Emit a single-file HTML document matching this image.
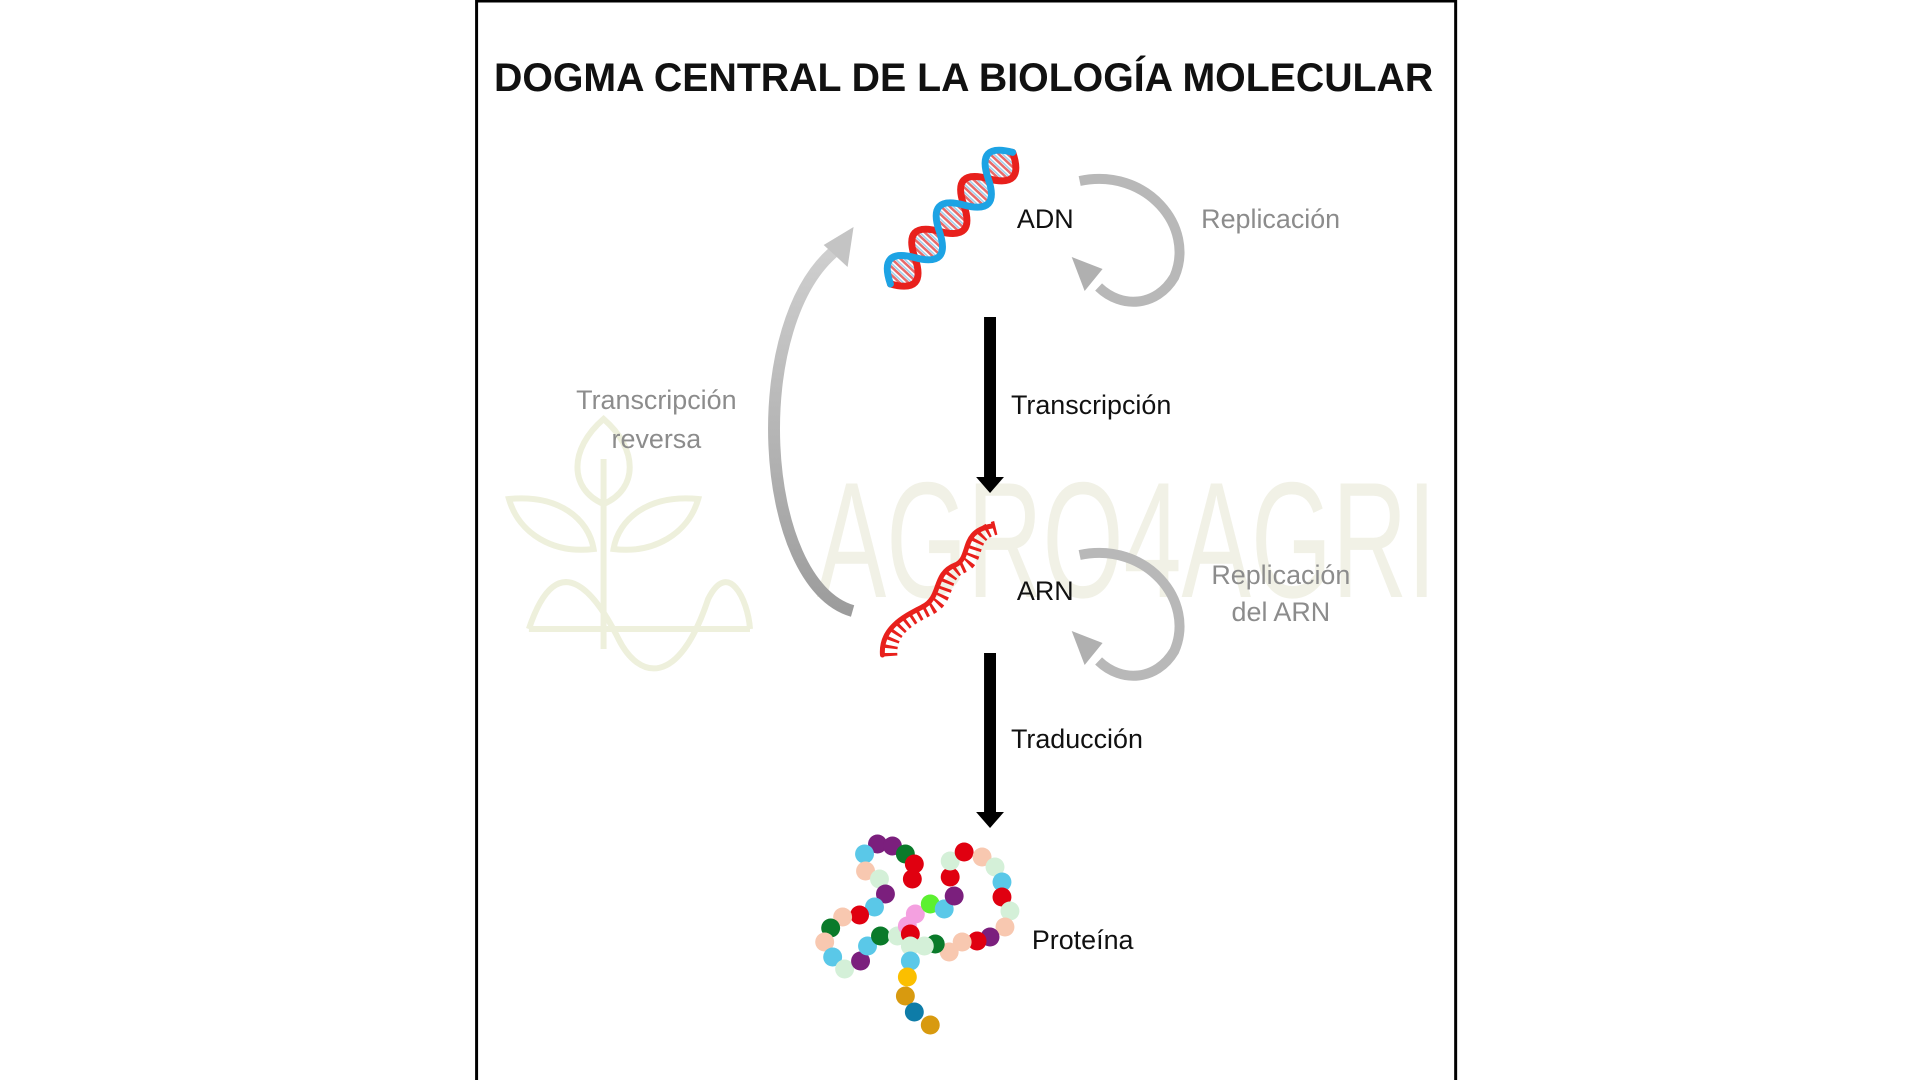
<!DOCTYPE html>
<html><head><meta charset="utf-8"><style>
html,body{margin:0;padding:0;background:#fff;width:1920px;height:1080px;overflow:hidden}
svg{display:block}
text{font-family:"Liberation Sans",sans-serif}
</style></head><body>
<svg width="1920" height="1080" viewBox="0 0 1920 1080" xmlns="http://www.w3.org/2000/svg">
<defs>
<pattern id="rungs" width="6" height="60" patternUnits="userSpaceOnUse" y="-30">
<rect x="0" y="0" width="2.5" height="60" fill="#e86a6a"/>
<rect x="3" y="0" width="1.5" height="60" fill="#9fd0ee"/>
</pattern>
<clipPath id="between"><path d="M0,0 Q18,34 36,0 T72,0 T108,0 T144,0 T180,0 Q162,-34 144,0 T108,0 T72,0 T36,0 T0,0 Z"/></clipPath>
<linearGradient id="revg" x1="0" y1="1" x2="0" y2="0"><stop offset="0" stop-color="#9c9c9c"/><stop offset="1" stop-color="#cfcfcf"/></linearGradient>
</defs>
<rect x="0" y="0" width="1920" height="1080" fill="#fff"/>
<g transform="matrix(0.996 0 0 1 1 -1)">
<rect x="477.5" y="2" width="983" height="1082" fill="none" stroke="#000" stroke-width="3"/>

<!-- watermark -->
<text x="819" y="598" font-size="165" fill="#f1f1e6" textLength="622" lengthAdjust="spacingAndGlyphs" style="font-family:'Liberation Sans Narrow','Liberation Sans',sans-serif">AGRO4AGRI</text>
<g fill="none" stroke="#eef0dc" stroke-width="6">
<path d="M605,420 C570,450 570,490 605,505 C640,490 640,450 605,420 Z"/>
<path d="M510,500 C560,495 590,520 595,550 C555,555 520,535 510,500 Z"/>
<path d="M700,500 C650,495 620,520 615,550 C655,555 690,535 700,500 Z"/>
<path d="M605,460 L605,650"/>
<path d="M530,630 C560,540 600,600 620,640 C640,680 680,690 710,600 C730,560 750,600 752,630"/>
<path d="M530,630 L752,630"/>
</g>

<text x="495" y="92" font-size="40" font-weight="bold" fill="#111" textLength="943" lengthAdjust="spacingAndGlyphs">DOGMA CENTRAL DE LA BIOLOGÍA MOLECULAR</text>

<!-- DNA -->
<g transform="translate(893,285) rotate(-47)">
<rect x="0" y="-30" width="180" height="60" fill="url(#rungs)" clip-path="url(#between)"/>
<path d="M0,0 Q18,34 36,0 T72,0 T108,0 T144,0 T180,0" fill="none" stroke="#e8201c" stroke-width="7" stroke-linecap="round"/>
<path d="M0,0 Q18,-34 36,0 T72,0 T108,0 T144,0 T180,0" fill="none" stroke="#1da3e4" stroke-width="7" stroke-linecap="round"/>
</g>
<text x="1020" y="229" font-size="27" fill="#111">ADN</text>

<!-- RNA -->
<path transform="translate(8,1)" d="M885,656 C883,630 905,618 925,608 C945,598 935,575 958,566 C975,559 962,532 995,527" fill="none" stroke="#e8201c" stroke-width="14" stroke-dasharray="3 4.5"/>
<path d="M885,656 C883,630 905,618 925,608 C945,598 935,575 958,566 C975,559 962,532 995,527" fill="none" stroke="#e8201c" stroke-width="5" stroke-linecap="round"/>
<text x="1020" y="601" font-size="27" fill="#111">ARN</text>

<!-- replication arcs -->
<g fill="none" stroke="#b8b8b8" stroke-width="10">
<path d="M1083,182 C1150,168 1200,228 1178,278 C1160,308 1125,310 1102,288"/>
<path d="M1083,556 C1150,542 1200,602 1178,652 C1160,682 1125,684 1102,662"/>
</g>
<polygon points="1075,258 1106,270 1088,292" fill="#b0b0b0"/>
<polygon points="1075,632 1106,644 1088,666" fill="#b0b0b0"/>
<text x="1205" y="229" font-size="27" fill="#8c8c8c">Replicación</text>
<text x="1285" y="585" font-size="27" fill="#8c8c8c" text-anchor="middle">Replicación</text>
<text x="1285" y="622" font-size="27" fill="#8c8c8c" text-anchor="middle">del ARN</text>

<!-- reverse transcription -->
<path d="M855,612 C760,585 745,320 842,248" fill="none" stroke="url(#revg)" stroke-width="12"/>
<polygon points="856,228 826,246 850,268" fill="#c4c4c4"/>
<text x="658" y="410" font-size="27" fill="#8c8c8c" text-anchor="middle">Transcripción</text>
<text x="658" y="449" font-size="27" fill="#8c8c8c" text-anchor="middle">reversa</text>

<!-- black arrows -->
<rect x="987" y="318" width="12" height="164" fill="#000"/>
<polygon points="979,478 1007,478 993,494" fill="#000"/>
<text x="1014" y="415" font-size="27" fill="#111">Transcripción</text>
<rect x="987" y="654" width="12" height="164" fill="#000"/>
<polygon points="979,813 1007,813 993,829" fill="#000"/>
<text x="1014" y="749" font-size="27" fill="#111">Traducción</text>

<!-- protein -->
<g>
<circle cx="880" cy="845" r="9.5" fill="#7b1f7d"/><circle cx="895" cy="847" r="9.5" fill="#7b1f7d"/>
<circle cx="867" cy="855" r="9.5" fill="#5ac8e8"/><circle cx="908" cy="855" r="9.5" fill="#0a7a2a"/>
<circle cx="917" cy="865" r="9.5" fill="#e00010"/><circle cx="868" cy="872" r="9.5" fill="#f8c8b0"/>
<circle cx="915" cy="880" r="9.5" fill="#e00010"/><circle cx="882" cy="880" r="9.5" fill="#d4f0d8"/>
<circle cx="888" cy="895" r="9.5" fill="#7b1f7d"/><circle cx="877" cy="908" r="9.5" fill="#5ac8e8"/>
<circle cx="862" cy="916" r="9.5" fill="#e00010"/><circle cx="845" cy="918" r="9.5" fill="#f8c8b0"/>
<circle cx="833" cy="929" r="9.5" fill="#0a7a2a"/><circle cx="827" cy="943" r="9.5" fill="#f8c8b0"/>
<circle cx="835" cy="958" r="9.5" fill="#5ac8e8"/><circle cx="847" cy="970" r="9.5" fill="#d4f0d8"/>
<circle cx="863" cy="962" r="9.5" fill="#7b1f7d"/><circle cx="870" cy="947" r="9.5" fill="#5ac8e8"/>
<circle cx="883" cy="937" r="9.5" fill="#0a7a2a"/><circle cx="900" cy="937" r="9.5" fill="#d4f0d8"/>
<circle cx="910" cy="927" r="9.5" fill="#f4a0e0"/><circle cx="918" cy="915" r="9.5" fill="#f4a0e0"/>
<circle cx="913" cy="935" r="9.5" fill="#e00010"/><circle cx="933" cy="905" r="9.5" fill="#5cf030"/>
<circle cx="947" cy="910" r="9.5" fill="#5ac8e8"/><circle cx="957" cy="897" r="9.5" fill="#7b1f7d"/>
<circle cx="953" cy="878" r="9.5" fill="#e00010"/><circle cx="953" cy="862" r="9.5" fill="#d4f0d8"/>
<circle cx="967" cy="853" r="9.5" fill="#e00010"/><circle cx="985" cy="858" r="9.5" fill="#f8c8b0"/>
<circle cx="998" cy="868" r="9.5" fill="#d4f0d8"/><circle cx="1005" cy="883" r="9.5" fill="#5ac8e8"/>
<circle cx="1005" cy="898" r="9.5" fill="#e00010"/><circle cx="1013" cy="912" r="9.5" fill="#d4f0d8"/>
<circle cx="1008" cy="928" r="9.5" fill="#f8c8b0"/><circle cx="993" cy="938" r="9.5" fill="#7b1f7d"/>
<circle cx="980" cy="942" r="9.5" fill="#e00010"/><circle cx="965" cy="943" r="9.5" fill="#f8c8b0"/>
<circle cx="952" cy="953" r="9.5" fill="#f8c8b0"/><circle cx="938" cy="945" r="9.5" fill="#0a7a2a"/>
<circle cx="927" cy="947" r="9.5" fill="#d4f0d8"/><circle cx="913" cy="947" r="9.5" fill="#d4f0d8"/>
<circle cx="913" cy="962" r="9.5" fill="#5ac8e8"/><circle cx="910" cy="978" r="9.5" fill="#fbbf00"/>
<circle cx="908" cy="997" r="9.5" fill="#d89a0f"/><circle cx="917" cy="1013" r="9.5" fill="#0e7ca8"/>
<circle cx="933" cy="1026" r="9.5" fill="#d89a0f"/>
</g>
<text x="1035" y="950" font-size="27" fill="#111">Proteína</text>
</g>
</svg>
</body></html>
